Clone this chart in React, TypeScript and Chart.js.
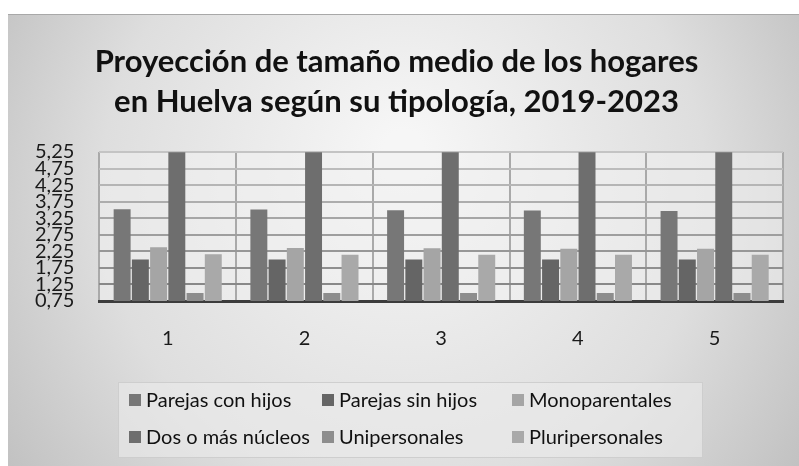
import React, { useEffect, useRef } from "react";
import { Chart, registerables } from "chart.js";

Chart.register(...registerables);

const categories = ["1", "2", "3", "4", "5"];
const seriesNames = [
  "Parejas con hijos",
  "Parejas sin hijos",
  "Monoparentales",
  "Dos o más núcleos",
  "Unipersonales",
  "Pluripersonales",
];
const parejasConHijos = [3.52, 3.51, 3.49, 3.48, 3.47];
const parejasSinHijos = [2.0, 2.0, 2.0, 2.0, 2.0];
const monoparentales = [2.37, 2.35, 2.34, 2.33, 2.33];
const dosOMasNucleos = [5.24, 5.24, 5.24, 5.24, 5.24];
const unipersonales = [0.99, 0.99, 0.99, 0.99, 0.99];
const pluripersonales = [2.16, 2.15, 2.15, 2.15, 2.15];
const seriesColors = ["#777777", "#656565", "#a5a5a5", "#6e6e6e", "#8d8d8d", "#a9a9a9"];
const yTicks = [0.75, 1.25, 1.75, 2.25, 2.75, 3.25, 3.75, 4.25, 4.75, 5.25];
const titleLines = [
  "Proyección de tamaño medio de los hogares",
  "en Huelva según su tipología, 2019-2023",
];

const backgroundPlugin = {
  id: "cardBackground",
  beforeDraw(chart: any) {
    const { ctx, width, height, chartArea } = chart;
    ctx.save();
    const g = ctx.createRadialGradient(width * 0.5, height * 0.3, 20, width * 0.5, height * 0.45, width * 0.62);
    g.addColorStop(0, "#f6f6f6");
    g.addColorStop(0.6, "#dedede");
    g.addColorStop(1, "#bebebe");
    ctx.fillStyle = g;
    ctx.fillRect(0, 0, width, height);
    ctx.fillStyle = "#a8a8a8";
    ctx.fillRect(0, 0, width, 1);
    ctx.fillStyle = "rgba(240,240,240,0.55)";
    ctx.fillRect(chartArea.left, chartArea.top, chartArea.right - chartArea.left, chartArea.bottom - chartArea.top);
    ctx.restore();
  },
};

const legendPlugin = {
  id: "gridLegend",
  afterDraw(chart: any) {
    const { ctx } = chart;
    const boxX = 110, boxY = 368, boxW = 585, boxH = 76;
    ctx.save();
    ctx.fillStyle = "rgba(235,235,235,0.6)";
    ctx.fillRect(boxX, boxY, boxW, boxH);
    ctx.strokeStyle = "rgba(200,200,200,0.8)";
    ctx.lineWidth = 1;
    ctx.strokeRect(boxX + 0.5, boxY + 0.5, boxW - 1, boxH - 1);
    const colX = [121, 314, 504];
    const rowY = [386, 423];
    ctx.font = "20px Lato";
    ctx.textBaseline = "middle";
    chart.data.datasets.forEach((ds: any, i: number) => {
      const x = colX[i % 3];
      const y = rowY[Math.floor(i / 3)];
      ctx.fillStyle = ds.backgroundColor;
      ctx.fillRect(x, y - 6, 12, 12);
      ctx.fillStyle = "#111111";
      ctx.fillText(ds.label, x + 17, y + 1);
    });
    ctx.restore();
  },
};

export default function App() {
  const ref = useRef<HTMLCanvasElement>(null);
  useEffect(() => {
    if (!ref.current) return;
    const series = [parejasConHijos, parejasSinHijos, monoparentales, dosOMasNucleos, unipersonales, pluripersonales];
    const chart = new Chart(ref.current, {
      type: "bar",
      data: {
        labels: categories,
        datasets: series.map((d, i) => ({
          label: seriesNames[i],
          data: d,
          backgroundColor: seriesColors[i],
          borderWidth: 0,
          categoryPercentage: 0.8,
          barPercentage: 0.93,
        })),
      },
      options: {
        animation: false,
        responsive: false,
        devicePixelRatio: 1,
        layout: { padding: { left: 2, right: 16, top: 0, bottom: 89 } },
        plugins: {
          legend: { display: false },
          tooltip: { enabled: false },
          title: {
            display: true,
            text: titleLines,
            color: "#111111",
            font: { family: "Lato", size: 31, weight: "bold", lineHeight: 1.29 },
            padding: { top: 28, bottom: 30 },
          },
        },
        scales: {
          x: {
            offset: true,
            grid: { display: true, offset: true, color: "#a9a9a9", lineWidth: 2, drawTicks: false },
            border: { display: true, color: "#3c3c3c", width: 3 },
            ticks: { color: "#1a1a1a", font: { family: "Lato", size: 20 }, padding: 26 },
          },
          y: {
            min: 0.75,
            max: 5.25,
            afterBuildTicks: (axis: any) => {
              axis.ticks = yTicks.map((v) => ({ value: v }));
            },
            grid: {
              color: (c: any) => {
                const t = Math.min(1, (c.index || 0) / 9);
                const v = Math.round(0x80 + t * (0xc4 - 0x80));
                return `rgb(${v},${v},${v})`;
              },
              lineWidth: 2,
              drawTicks: false,
            },
            border: { display: false },
            ticks: {
              autoSkip: false,
              color: "#1a1a1a",
              font: { family: "Lato", size: 20, lineHeight: 1 },
              padding: 25,
              callback: (v: any) => Number(v).toFixed(2).replace(".", ","),
            },
          },
        },
      },
      plugins: [backgroundPlugin, legendPlugin],
    });
    return () => chart.destroy();
  }, []);
  return (
    <div style={{ position: "fixed", left: 8, top: 14, width: 791, height: 452 }}>
      <canvas ref={ref} width={791} height={452} style={{ display: "block", width: 791, height: 452 }} />
    </div>
  );
}
